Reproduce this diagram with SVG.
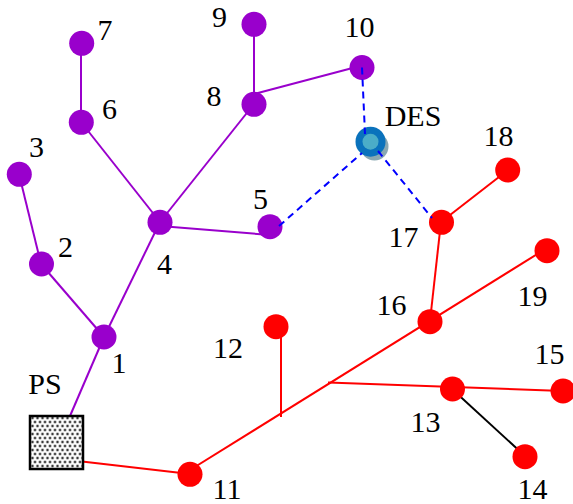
<svg xmlns="http://www.w3.org/2000/svg" width="573" height="504" viewBox="0 0 573 504">
<defs>
<pattern id="dots" width="5" height="8" patternUnits="userSpaceOnUse">
<rect width="5" height="8" fill="#ffffff"/>
<circle cx="2.5" cy="2" r="1.8" fill="#b0b0b0"/>
<circle cx="2.5" cy="2" r="1" fill="#303030"/>
<circle cx="0" cy="6" r="1.8" fill="#b0b0b0"/>
<circle cx="0" cy="6" r="1" fill="#303030"/>
<circle cx="5" cy="6" r="1.8" fill="#b0b0b0"/>
<circle cx="5" cy="6" r="1" fill="#303030"/>
</pattern>
</defs>
<style>
.p{fill:#9900CC}
.r{fill:#FF0000}
.lp{stroke:#9900CC;stroke-width:2;fill:none}
.lr{stroke:#FF0000;stroke-width:2;fill:none}
.lk{stroke:#000000;stroke-width:2;fill:none}
.ld{stroke:#0000FF;stroke-width:2;fill:none;stroke-dasharray:7,5}
text{font-family:"Times New Roman","Liberation Serif","DejaVu Serif",serif;font-size:30px;fill:#000;text-anchor:middle}
</style>
<g id="connectors">
<line class="lp" x1="81" y1="43" x2="81" y2="122"/>
<line class="lp" x1="81" y1="122" x2="160" y2="222"/>
<line class="lp" x1="254" y1="24" x2="254" y2="104"/>
<line class="lp" x1="256" y1="93.5" x2="362" y2="65.5"/>
<line class="lp" x1="254" y1="104" x2="160" y2="222"/>
<line class="lp" x1="160" y1="226" x2="270" y2="235"/>
<line class="lp" x1="160" y1="222" x2="104" y2="337"/>
<line class="lp" x1="19" y1="174" x2="41" y2="264"/>
<line class="lp" x1="41" y1="264" x2="104" y2="337"/>
<line class="lp" x1="70" y1="416" x2="104" y2="337"/>
<line class="lr" x1="82" y1="461.5" x2="190" y2="474"/>
<line class="lr" x1="190" y1="470" x2="547" y2="248"/>
<line class="lr" x1="281" y1="326" x2="281" y2="417"/>
<line class="lr" x1="328" y1="382.5" x2="563" y2="391"/>
<line class="lr" x1="430" y1="321" x2="441" y2="222"/>
<line class="lr" x1="441" y1="222" x2="508" y2="170"/>
<line class="lk" x1="452" y1="389" x2="525" y2="456"/>
</g>
<g id="PS"><rect x="30" y="416" width="53" height="53" fill="url(#dots)" stroke="#000" stroke-width="2.5"/><text x="45" y="394">PS</text></g>
<g id="n1"><circle class="p" cx="104" cy="337" r="12.5"/><text x="119" y="372.7">1</text></g>
<g id="n2"><circle class="p" cx="41.5" cy="264" r="12.5"/><text x="65.5" y="256.7">2</text></g>
<g id="n3"><circle class="p" cx="19.3" cy="174.3" r="12.5"/><text x="36.5" y="157">3</text></g>
<g id="n4"><circle class="p" cx="160" cy="222.3" r="12.5"/><text x="164.5" y="274">4</text></g>
<g id="n5"><circle class="p" cx="270" cy="226.7" r="12.5"/><text x="260.5" y="209">5</text></g>
<g id="n6"><circle class="p" cx="81.3" cy="122.3" r="12.5"/><text x="109.5" y="119">6</text></g>
<g id="n7"><circle class="p" cx="81.7" cy="43.3" r="12.5"/><text x="105" y="40">7</text></g>
<g id="n8"><circle class="p" cx="254" cy="104.3" r="12.5"/><text x="214" y="106">8</text></g>
<g id="n9"><circle class="p" cx="254" cy="24.3" r="12.5"/><text x="219.5" y="26.7">9</text></g>
<g id="n10"><circle class="p" cx="362" cy="67.5" r="12.5"/><text x="359.5" y="37">10</text></g>
<g id="n11"><circle class="r" cx="190" cy="474.3" r="12.5"/><text x="227" y="499">11</text></g>
<g id="n12"><circle class="r" cx="276" cy="326.7" r="12.5"/><text x="228" y="357.7">12</text></g>
<g id="n13"><circle class="r" cx="452.5" cy="389" r="12.5"/><text x="425.5" y="432">13</text></g>
<g id="n14"><circle class="r" cx="525" cy="456.7" r="12.5"/><text x="532.5" y="499">14</text></g>
<g id="n15"><circle class="r" cx="563" cy="391" r="12.5"/><text x="549.5" y="364">15</text></g>
<g id="n16"><circle class="r" cx="430" cy="321.7" r="12.5"/><text x="391.5" y="315">16</text></g>
<g id="n17"><circle class="r" cx="441.5" cy="222.3" r="12.5"/><text x="403.5" y="247">17</text></g>
<g id="n18"><circle class="r" cx="507.7" cy="170" r="12.5"/><text x="498.5" y="146">18</text></g>
<g id="n19"><circle class="r" cx="547" cy="250.7" r="12.5"/><text x="532.5" y="306">19</text></g>
<g id="DES">
<circle cx="374.5" cy="146.5" r="14" fill="#8aa8b2"/>
<circle cx="370.5" cy="141.7" r="15" fill="#0A72BC"/>
<circle cx="370.5" cy="141.7" r="8" fill="#4BADC8"/>
<text x="413" y="126">DES</text>
</g>
<g id="dashed-connectors">
<line class="ld" x1="362" y1="67.5" x2="365" y2="134"/>
<line class="ld" x1="279" y1="226" x2="362" y2="153"/>
<line class="ld" x1="378" y1="151" x2="432" y2="218"/>
</g>
</svg>
